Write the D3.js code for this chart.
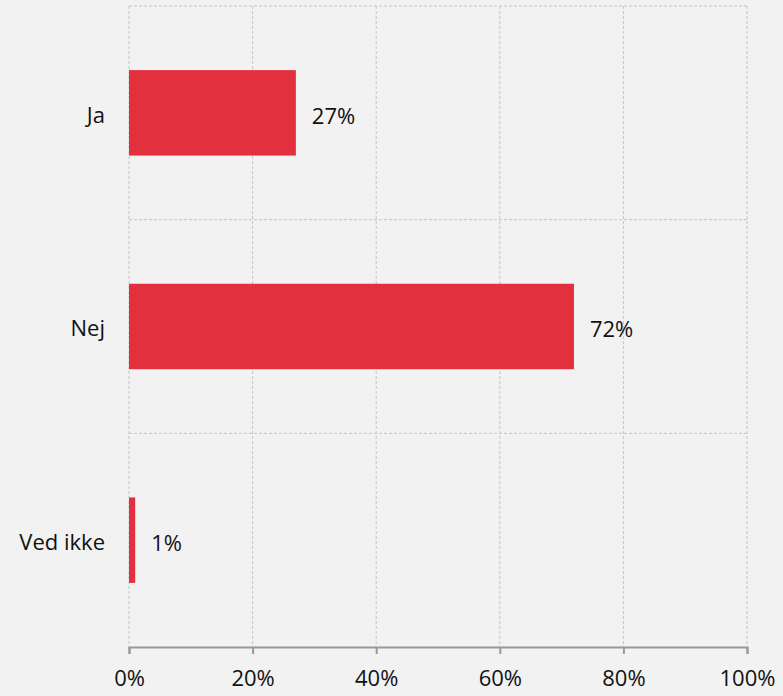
<!DOCTYPE html>
<html>
<head>
<meta charset="utf-8">
<script src="https://cdn.jsdelivr.net/npm/d3@7"></script>
<style>
  html, body { margin: 0; padding: 0; background: #f2f2f2; }
  svg text { font-family: "Segoe UI", "Open Sans", "Noto Sans", sans-serif; fill: #111; }
</style>
</head>
<body>
<div id="chart"></div>
<script>
const categories = ["Ja", "Nej", "Ved ikke"];
const values = [27, 72, 1];
const ticks = [0, 20, 40, 60, 80, 100];

const W = 783, H = 696;
const m = { t: 6, r: 36, b: 49, l: 129 };
const fs = "22px";
const svg = d3.select("#chart").append("svg").attr("width", W).attr("height", H);

const x = d3.scaleLinear().domain([0, 100]).range([m.l, W - m.r]);
const y = d3.scaleBand().domain(categories).range([m.t, H - m.b]).paddingInner(0.6).paddingOuter(0.3);

// vertical grid
svg.append("g").selectAll("line").data(ticks).join("line")
  .attr("x1", d => x(d)).attr("x2", d => x(d))
  .attr("y1", m.t).attr("y2", H - m.b)
  .attr("stroke", "#c4c4c4").attr("stroke-dasharray", "3,2");

// horizontal band separators
const seps = [m.t].concat(categories.slice(1).map(c => y(c) - y.step() * y.paddingInner() / 2));
svg.append("g").selectAll("line").data(seps).join("line")
  .attr("x1", m.l).attr("x2", W - m.r)
  .attr("y1", d => d).attr("y2", d => d)
  .attr("stroke", "#c4c4c4").attr("stroke-dasharray", "3,2");

// bars
svg.append("g").selectAll("rect").data(categories).join("rect")
  .attr("x", x(0))
  .attr("y", c => y(c))
  .attr("width", (c, i) => x(values[i]) - x(0))
  .attr("height", y.bandwidth())
  .attr("fill", "#e3303f");

// value labels
svg.append("g").selectAll("text").data(categories).join("text")
  .attr("x", (c, i) => x(values[i]) + 16)
  .attr("y", c => y(c) + y.bandwidth() / 2 + 3)
  .attr("dy", "0.35em")
  .style("font-size", fs)
  .text((c, i) => values[i] + "%");

// category labels
svg.append("g").selectAll("text").data(categories).join("text")
  .attr("x", m.l - 24)
  .attr("y", c => y(c) + y.bandwidth() / 2 + 2)
  .attr("dy", "0.35em")
  .attr("text-anchor", "end")
  .style("font-size", fs)
  .text(c => c);

// x axis
const ax = svg.append("g").attr("transform", `translate(0,${H - m.b})`)
  .call(d3.axisBottom(x).tickValues(ticks).tickSize(7).tickPadding(16).tickFormat(d => d + "%"));
ax.select(".domain").attr("stroke", "#999").attr("stroke-width", 2);
ax.selectAll(".tick line").attr("stroke", "#999").attr("stroke-width", 2);
ax.selectAll(".tick text").style("font-size", fs).attr("fill", "#111")
  .style("font-family", "\"Segoe UI\", \"Open Sans\", \"Noto Sans\", sans-serif");
</script>
</body>
</html>
